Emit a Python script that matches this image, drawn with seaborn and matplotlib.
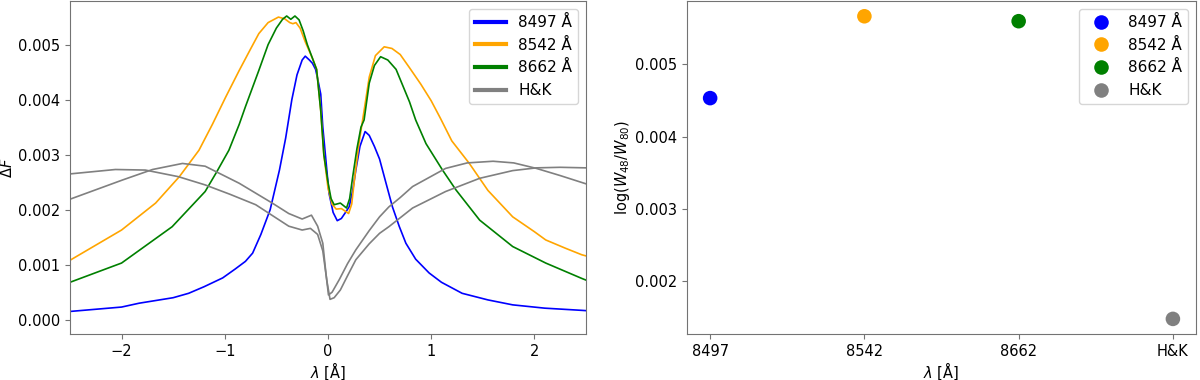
import numpy as np
import pandas as pd
import matplotlib
matplotlib.use("Agg")
import matplotlib.pyplot as plt
import seaborn as sns

# curves, dF in units of 1e-3
lam_8497 = [-2.5, -2.0, -1.83, -1.5, -1.35, -1.2, -1.02, -0.9, -0.8, -0.73, -0.65, -0.56,
            -0.47, -0.41, -0.35, -0.3, -0.25, -0.22, -0.18, -0.15, -0.12, -0.1, -0.07, -0.05,
            -0.02, 0.01, 0.05, 0.09, 0.13, 0.17, 0.205, 0.24, 0.27, 0.31, 0.36, 0.4, 0.45,
            0.5, 0.56, 0.625, 0.69, 0.755, 0.85, 0.98, 1.1, 1.3, 1.55, 1.79, 2.1, 2.46, 2.5]
df_8497 = [0.15, 0.23, 0.30, 0.40, 0.48, 0.60, 0.76, 0.92, 1.06, 1.21, 1.55, 2.0,
           2.72, 3.3, 4.0, 4.45, 4.72, 4.79, 4.72, 4.66, 4.55, 4.38, 4.1, 3.5,
           2.9, 2.3, 1.95, 1.80, 1.84, 1.95, 2.05, 2.35, 2.72, 3.15, 3.42, 3.35, 3.15,
           2.92, 2.5, 2.05, 1.7, 1.39, 1.1, 0.85, 0.68, 0.48, 0.36, 0.27, 0.21, 0.17, 0.165]

lam_8542 = [-2.5, -2.0, -1.67, -1.44, -1.25, -1.12, -0.99, -0.86, -0.75, -0.67, -0.58, -0.48,
            -0.42, -0.37, -0.34, -0.31, -0.27, -0.22, -0.15, -0.11, -0.07, -0.04, 0.0, 0.04,
            0.08, 0.13, 0.17, 0.2, 0.23, 0.26, 0.3, 0.35, 0.4, 0.46, 0.545, 0.62, 0.7, 0.79,
            0.9, 1.0, 1.09, 1.2, 1.37, 1.55, 1.79, 2.0, 2.11, 2.3, 2.46, 2.5]
df_8542 = [1.08, 1.63, 2.12, 2.60, 3.08, 3.55, 4.05, 4.53, 4.92, 5.20, 5.40, 5.50,
           5.47, 5.40, 5.38, 5.40, 5.30, 5.05, 4.75, 4.55, 3.8, 3.0, 2.4, 2.1,
           2.01, 2.02, 1.97, 1.93, 2.1, 2.6, 3.2, 3.8, 4.41, 4.80, 4.96, 4.93, 4.82, 4.58,
           4.28, 3.98, 3.66, 3.25, 2.84, 2.35, 1.87, 1.6, 1.45, 1.30, 1.18, 1.16]

lam_8662 = [-2.5, -2.0, -1.51, -1.19, -1.08, -0.96, -0.86, -0.8, -0.67, -0.58, -0.5, -0.44,
            -0.4, -0.36, -0.32, -0.28, -0.24, -0.2, -0.15, -0.11, -0.07, -0.04, 0.0, 0.03,
            0.06, 0.12, 0.18, 0.21, 0.24, 0.28, 0.32, 0.35, 0.4, 0.45, 0.51, 0.58, 0.66,
            0.79, 0.85, 0.95, 1.11, 1.24, 1.47, 1.79, 2.11, 2.46, 2.5]
df_8662 = [0.68, 1.03, 1.69, 2.33, 2.68, 3.08, 3.55, 3.87, 4.53, 5.0, 5.3, 5.46,
           5.52, 5.46, 5.52, 5.45, 5.25, 5.0, 4.75, 4.55, 3.8, 3.0, 2.5, 2.2,
           2.09, 2.12, 2.03, 2.2, 2.6, 3.1, 3.5, 3.63, 4.3, 4.62, 4.78, 4.72, 4.55,
           3.96, 3.63, 3.2, 2.72, 2.36, 1.81, 1.33, 1.03, 0.75, 0.72]

lam_h = [-2.5, -1.99, -1.7, -1.41, -1.19, -0.86, -0.54, -0.38, -0.25, -0.16, -0.1, -0.05,
         -0.02, 0.005, 0.04, 0.11, 0.19, 0.27, 0.4, 0.5, 0.59, 0.7, 0.82, 1.14, 1.35,
         1.6, 1.8, 2.02, 2.25, 2.5]
df_h = [2.19, 2.54, 2.73, 2.84, 2.79, 2.48, 2.12, 1.93, 1.83, 1.90, 1.70, 1.39,
        0.85, 0.45, 0.50, 0.73, 1.02, 1.27, 1.62, 1.87, 2.05, 2.22, 2.42, 2.75, 2.85,
        2.88, 2.85, 2.75, 2.62, 2.47]

lam_k = [-2.5, -2.06, -1.77, -1.45, -1.19, -0.95, -0.7, -0.38, -0.25, -0.17, -0.1, -0.05,
         -0.01, 0.02, 0.06, 0.12, 0.19, 0.27, 0.4, 0.5, 0.59, 0.82, 1.14, 1.47, 1.79,
         2.02, 2.25, 2.5]
df_k = [2.65, 2.73, 2.72, 2.6, 2.45, 2.28, 2.09, 1.70, 1.63, 1.66, 1.55, 1.25,
        0.70, 0.37, 0.40, 0.54, 0.80, 1.09, 1.38, 1.57, 1.69, 2.03, 2.33, 2.57, 2.71,
        2.76, 2.77, 2.76]

labels = ["8497 Å", "8542 Å", "8662 Å", "H&K"]
colors = ["blue", "orange", "green", "gray"]

# right panel
lines = ["8497", "8542", "8662", "H&K"]
log_ratio = [0.004533, 0.005664, 0.005596, 0.001482]

curves = [
    ("8497 Å", "8497", lam_8497, df_8497),
    ("8542 Å", "8542", lam_8542, df_8542),
    ("8662 Å", "8662", lam_8662, df_8662),
    ("H&K", "H", lam_h, df_h),
    ("H&K", "K", lam_k, df_k),
]
frames = []
for lab, cid, x, y in curves:
    frames.append(pd.DataFrame({"lam": x, "dF": np.array(y) * 1e-3, "label": lab, "curve": cid}))
spec = pd.concat(frames, ignore_index=True)

pts = pd.DataFrame({"line": lines, "ratio": log_ratio, "label": labels})

plt.rcParams["font.size"] = 10.5
plt.rcParams["legend.fontsize"] = 11
plt.rcParams["axes.edgecolor"] = "0.45"
plt.rcParams["xtick.color"] = "0.45"
plt.rcParams["ytick.color"] = "0.45"
plt.rcParams["xtick.labelcolor"] = "black"
plt.rcParams["ytick.labelcolor"] = "black"

fig = plt.figure(figsize=(12, 3.8), dpi=100)
ax1 = fig.add_axes([0.0583, 0.121, 0.430, 0.876])
ax2 = fig.add_axes([0.5725, 0.121, 0.4242, 0.876])

palette = dict(zip(labels, colors))
sns.lineplot(data=spec, x="lam", y="dF", hue="label", units="curve", estimator=None,
             palette=palette, hue_order=labels, linewidth=1.2, ax=ax1)
ax1.set_xlim(-2.5, 2.5)
ax1.set_ylim(-0.00026, 0.00579)
ax1.set_xlabel(r"$\lambda$ [Å]", labelpad=1)
ax1.set_ylabel(r"$\Delta F$", labelpad=2)
leg = ax1.legend(loc="upper right")
for ln in leg.get_lines():
    ln.set_linewidth(3)

sns.scatterplot(data=pts, x="line", y="ratio", hue="label", palette=palette,
                hue_order=labels, s=110, linewidth=0, ax=ax2)
ax2.set_xlabel(r"$\lambda$ [Å]", labelpad=1)
ax2.set_ylabel(r"$\log(W_{48}/W_{80})$", labelpad=2)
ax2.legend(loc="upper right")

fig.savefig("out.png", dpi=100)
